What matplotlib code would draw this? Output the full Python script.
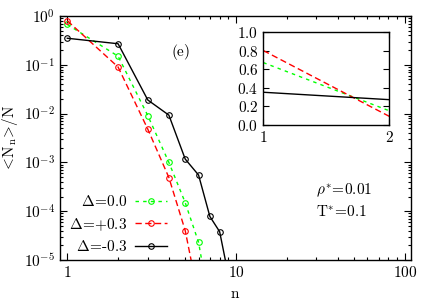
import math
import matplotlib
matplotlib.use("Agg")
import matplotlib.pyplot as plt
from matplotlib.ticker import FixedLocator, FuncFormatter, LogLocator, NullFormatter, MultipleLocator

plt.rcParams['mathtext.fontset'] = 'cm'
plt.rcParams['font.family'] = 'DejaVu Serif'
plt.rcParams['axes.linewidth'] = 1.0

# data
n_zero = [1, 2, 3, 4, 5, 6, 7]
v_zero = [0.67, 0.15, 0.0091, 1.0e-3, 1.5e-4, 2.3e-5, 1.1e-6]
n_plus = [1, 2, 3, 4, 5, 6]
v_plus = [0.80, 0.09, 0.0048, 4.9e-4, 4.0e-5, 1.7e-6]
n_minus = [1, 2, 3, 4, 5, 6, 7, 8, 9]
v_minus = [0.35, 0.27, 0.019, 0.0093, 1.17e-3, 5.5e-4, 7.8e-5, 3.8e-5, 5e-6]

EQ = r'\!=\!'
labels = [r'$\Delta' + EQ + r'0.0$',
          r'$\Delta' + EQ + r'{+}0.3$',
          r'$\Delta' + EQ + r'\text{-}0.3$']

GREEN = '#00ff00'
RED = '#ff0000'
BLACK = '#000000'

fig = plt.figure(figsize=(4.36, 3.05), dpi=100)
ax = fig.add_axes([60/436, 1-260/305, (411-60)/436, (260-16)/305])

mk = dict(marker='o', markersize=4, fillstyle='none', markeredgewidth=0.8, linewidth=1.0)
lz, = ax.plot(n_zero, v_zero, color=GREEN, dashes=(2.5, 3), label=labels[0], **mk)
lp, = ax.plot(n_plus, v_plus, color=RED, dashes=(4.5, 2.5), label=labels[1], **mk)
lm, = ax.plot(n_minus, v_minus, color=BLACK, label=labels[2], **mk)

ax.set_xscale('log')
ax.set_yscale('log')
ax.set_xlim(0.905, 109)
ax.set_ylim(1e-5, 1)

ax.xaxis.set_major_locator(FixedLocator([1, 10, 100]))
ax.xaxis.set_major_formatter(FuncFormatter(lambda v, p: r'$%d$' % round(v)))
ax.xaxis.set_minor_locator(LogLocator(base=10, subs=range(2, 10), numticks=20))
ax.xaxis.set_minor_formatter(NullFormatter())
ax.yaxis.set_major_locator(FixedLocator([1e-5, 1e-4, 1e-3, 1e-2, 1e-1, 1]))
ax.yaxis.set_major_formatter(FuncFormatter(lambda v, p: r'$10^{%d}$' % round(math.log10(v))))
ax.yaxis.set_minor_locator(LogLocator(base=10, subs=range(2, 10), numticks=20))
ax.yaxis.set_minor_formatter(NullFormatter())
ax.tick_params(which='both', direction='in', top=True, right=True, labelsize=11)
ax.tick_params(which='major', length=5, width=0.8)
ax.tick_params(which='minor', length=2.5, width=0.8)

ax.set_xlabel(r'$\mathrm{n}$', fontsize=11, labelpad=5)
ax.set_ylabel(r'$\mathrm{<\!N_n\!>\!/N}$', fontsize=11, labelpad=3)

fig.text(181/436, 1-52/305, r'$\mathrm{(e)}$', ha='center', va='center', fontsize=11)
ax.text(0.73, 0.27, r'$\rho^{*}' + EQ + r'0.01$', transform=ax.transAxes, fontsize=11)
ax.text(0.73, 0.18, r'$\mathrm{T}^{*}' + EQ + r'0.1$', transform=ax.transAxes, fontsize=11)

leg = ax.legend(handles=[lz, lp, lm], loc='lower left', bbox_to_anchor=(0.0, -0.015),
                markerfirst=False, frameon=False, fontsize=11, handlelength=2.1,
                labelspacing=0.45, handletextpad=0.5, borderaxespad=0.2)

# inset
ins = fig.add_axes([263.3/436, 1-124.7/305, (389.3-263.3)/436, (124.7-32)/305])
ins.plot(n_zero, v_zero, color=GREEN, dashes=(2.5, 3), linewidth=1.0)
ins.plot(n_plus, v_plus, color=RED, dashes=(4.5, 2.5), linewidth=1.0)
ins.plot(n_minus, v_minus, color=BLACK, linewidth=1.0)
ins.set_xlim(1, 2)
ins.set_ylim(0, 1)
ins.xaxis.set_major_locator(FixedLocator([1, 2]))
ins.xaxis.set_major_formatter(FuncFormatter(lambda v, p: r'$%d$' % round(v)))
ins.yaxis.set_major_locator(MultipleLocator(0.2))
ins.yaxis.set_major_formatter(FuncFormatter(lambda v, p: r'$%.1f$' % v))
ins.tick_params(which='both', direction='in', top=True, right=True, labelsize=11, length=4, width=0.8)

fig.savefig('out.png', dpi=100)
